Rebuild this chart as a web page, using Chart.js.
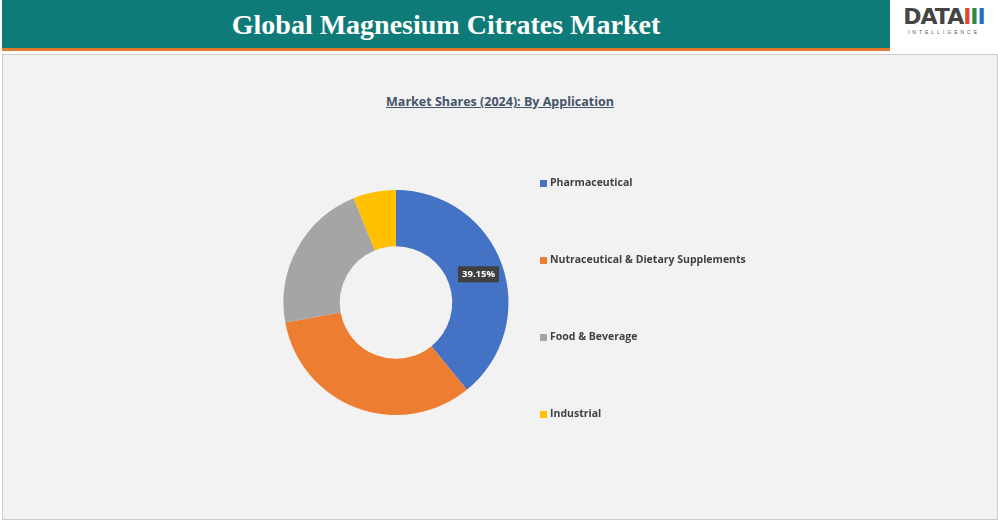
<!DOCTYPE html>
<html><head><meta charset="utf-8">
<script src="https://cdn.jsdelivr.net/npm/chart.js@4"></script>
<style>
body{margin:0;width:998px;height:521px;background:#fff;font-family:"Liberation Sans",sans-serif;overflow:hidden;position:relative}
#header{position:absolute;left:2px;top:0;width:888px;height:48px;background:#0f7b78;border-bottom:3px solid #e07a2e;color:#fff;text-align:center;font:bold 28px "Liberation Serif",serif;line-height:50px}
#logo{position:absolute;left:892px;top:4px;width:104px;height:44px;text-align:center}
#logo b{font:bold 22px "DejaVu Sans",sans-serif;color:#444;letter-spacing:-1px}
#logo small{display:block;font-size:5px;letter-spacing:3px;color:#555}
#panel{position:absolute;left:2px;top:54px;width:994px;height:464px;background:#f2f2f2;border:1px solid #ccc}
#title{position:absolute;left:0;width:100%;top:38px;text-align:center;font:bold 12.5px "Open Sans",sans-serif;color:#44546a;text-decoration:underline}
#wrap{position:absolute;left:0;top:0;width:994px;height:464px}
</style></head><body>
<div id="header">Global Magnesium Citrates Market</div>
<div id="logo"><b>DATA<span style="color:#e0482e">I</span><span style="color:#2a8a4a">I</span><span style="color:#2c6fb5">I</span></b><small>INTELLIGENCE</small></div>
<div id="panel"><div id="title">Market Shares (2024): By Application</div><div id="wrap"><canvas id="c"></canvas></div></div>
<script>
const categories = ['Pharmaceutical', 'Nutraceutical & Dietary Supplements', 'Food & Beverage', 'Industrial'];
const shares = [39.15, 33.0, 21.7, 6.15];
const colors = ['#4472c4', '#ed7d31', '#a5a5a5', '#ffc000'];

const labelPlugin = {
  id: 'lbl',
  afterDatasetsDraw(chart) {
    const arc = chart.getDatasetMeta(0).data[0];
    const p = arc.tooltipPosition();
    const ctx = chart.ctx;
    ctx.save();
    ctx.font = 'bold 9.5px "Open Sans", sans-serif';
    const t = shares[0].toFixed(2) + '%';
    const w = ctx.measureText(t).width + 8;
    ctx.fillStyle = '#404040';
    ctx.fillRect(p.x - w / 2 + 3, p.y - 8, w, 16);
    ctx.fillStyle = '#fff';
    ctx.textAlign = 'center'; ctx.textBaseline = 'middle';
    ctx.fillText(t, p.x + 3, p.y);
    ctx.restore();
  }
};

const legendPlugin = {
  id: 'leg',
  afterDraw(chart) {
    const ctx = chart.ctx;
    ctx.save();
    ctx.font = 'bold 10.5px "Open Sans", sans-serif';
    ctx.textBaseline = 'middle';
    categories.forEach((c, i) => {
      const y = 128 + i * 77;
      ctx.fillStyle = colors[i];
      ctx.fillRect(537, y - 3, 7, 7);
      ctx.fillStyle = '#404040';
      ctx.fillText(c, 547, y);
    });
    ctx.restore();
  }
};

new Chart(document.getElementById('c'), {
  type: 'doughnut',
  data: { labels: categories, datasets: [{ data: shares, backgroundColor: colors, borderWidth: 0 }] },
  options: {
    responsive: true, maintainAspectRatio: false, animation: false,
    cutout: '50%',
    layout: { padding: { left: 279, right: 487, top: 135, bottom: 104 } },
    plugins: { legend: { display: false }, tooltip: { enabled: false } }
  },
  plugins: [labelPlugin, legendPlugin]
});
</script>
</body></html>
